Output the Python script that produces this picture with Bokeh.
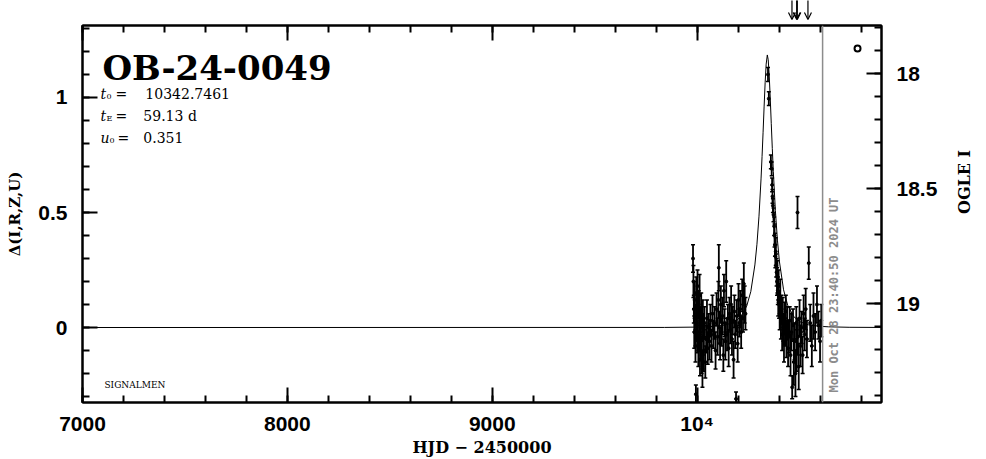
import math
from bokeh.plotting import figure
from bokeh.layouts import column
from bokeh.models import (Range1d, LinearAxis, SingleIntervalTicker, Label, Span,
                          Arrow, OpenHead, CustomJSTickFormatter)
from bokeh.embed import file_html
from bokeh.resources import INLINE

# ---------------- data ----------------
# microlensing model curve: HJD-2450000, delta mag
model_t = [7000, 9840, 9990, 10040, 10090, 10140, 10180, 10212, 10242, 10262,
           10282, 10292, 10302, 10312, 10317, 10322, 10327, 10332, 10337, 10342.7,
           10347, 10352, 10357, 10362, 10367, 10372, 10382, 10392, 10402, 10422,
           10442, 10472, 10502, 10542, 10592, 10642, 10742, 10900]
model_d = [0.000, 0.0004, 0.0017, 0.0031, 0.0053, 0.0113, 0.0233, 0.0458, 0.093, 0.156,
           0.272, 0.362, 0.484, 0.646, 0.743, 0.849, 0.959, 1.064, 1.145, 1.185,
           1.164, 1.095, 0.996, 0.886, 0.778, 0.678, 0.508, 0.380, 0.285, 0.164,
           0.097, 0.047, 0.025, 0.012, 0.0055, 0.003, 0.001, 0.0003]

# OGLE photometry: HJD-2450000, delta mag, error
obs_t = [9980, 9982, 9984, 9986, 9988, 9990, 9992, 9994, 9996, 9998,
         10000, 10002, 10004, 10006, 10008, 10010, 10012, 10014, 10016, 10018,
         10020, 10022, 10024, 10026, 10028, 10030, 10033, 10036, 10040, 10044,
         10048, 10052, 10056, 10060, 10065, 10070, 10075, 10080, 10085, 10090,
         10095, 10100, 10104, 10106, 10108, 10112, 10116, 10120, 10124, 10128,
         10131, 10134, 10138, 10142, 10146, 10150, 10154, 10158, 10162, 10166,
         10170, 10174, 10178, 10182, 10186, 10190, 10194, 10198, 10202, 10206,
         10210, 10215, 10220, 10224, 10228, 10232, 10236,
         10346, 10350, 10360, 10364, 10366, 10368, 10370, 10373, 10376, 10378,
         10380, 10382, 10384, 10386, 10388, 10390, 10392, 10394, 10396, 10398,
         10400, 10403, 10406, 10409, 10412, 10415, 10418, 10421, 10424, 10427,
         10430, 10433, 10436, 10440, 10444, 10448, 10452, 10456, 10460, 10464,
         10468, 10472, 10476, 10480, 10484, 10486, 10490, 10492, 10496, 10500,
         10505, 10510, 10515, 10520, 10525, 10530, 10536, 10545, 10552, 10560,
         10568, 10576, 10585, 10592, 10600, 10606]
obs_d = [0.30, 0.20, 0.08, -0.02, 0.12, 0.04, -0.08, -0.29, 0.15, 0.02,
         -0.05, 0.18, 0.06, -0.10, 0.10, -0.02, 0.14, -0.14, 0.03, -0.06,
         0.08, -0.12, 0.00, -0.18, 0.05, -0.04, -0.10, 0.02, -0.15, -0.05,
         0.04, -0.09, 0.00, -0.06, 0.03, -0.08, 0.06, -0.03, 0.02, -0.10,
         0.08, -0.04, 0.12, 0.26, 0.00, -0.07, 0.10, -0.02, 0.05, -0.12,
         0.16, 0.02, -0.06, 0.20, -0.03, 0.04, -0.09, 0.06, -0.01, 0.10,
         -0.05, 0.03, -0.14, 0.07, -0.03, -0.31, 0.05, -0.07, 0.12, 0.02,
         0.08, -0.02, 0.14, 0.04, 0.19, 0.10, 0.06,
         1.10, 0.995, 0.72, 0.69, 0.62, 0.57, 0.53, 0.49, 0.44, 0.40,
         0.36, 0.31, 0.33, 0.27, 0.24, 0.20, 0.22, 0.16, 0.12, 0.18,
         0.10, 0.06, 0.13, 0.02, 0.08, -0.03, 0.05, 0.00, -0.07, 0.04,
         -0.02, 0.07, -0.05, 0.02, -0.09, -0.04, 0.03, -0.12, -0.02, -0.26,
         0.01, -0.15, -0.06, -0.20, 0.02, -0.10, 0.50, -0.04, -0.17, 0.04,
         -0.08, 0.00, -0.12, 0.06, -0.03, 0.08, -0.05, 0.28, 0.02, -0.08,
         0.05, -0.02, 0.10, 0.01, -0.06, 0.03]
obs_e = [0.06, 0.07, 0.06, 0.07, 0.08, 0.06, 0.07, 0.04, 0.07, 0.08,
         0.06, 0.07, 0.08, 0.07, 0.06, 0.08, 0.09, 0.07, 0.06, 0.08,
         0.07, 0.08, 0.06, 0.08, 0.07, 0.08, 0.09, 0.07, 0.07, 0.06,
         0.08, 0.07, 0.06, 0.08, 0.07, 0.07, 0.08, 0.06, 0.07, 0.08,
         0.07, 0.08, 0.08, 0.10, 0.07, 0.07, 0.08, 0.06, 0.08, 0.07,
         0.07, 0.06, 0.08, 0.09, 0.07, 0.06, 0.08, 0.07, 0.06, 0.08,
         0.07, 0.06, 0.08, 0.07, 0.06, 0.03, 0.07, 0.08, 0.07, 0.06,
         0.08, 0.07, 0.07, 0.06, 0.09, 0.08, 0.07,
         0.03, 0.03, 0.03, 0.03, 0.03, 0.03, 0.03, 0.03, 0.04, 0.05,
         0.05, 0.05, 0.06, 0.05, 0.06, 0.06, 0.07, 0.06, 0.07, 0.07,
         0.06, 0.07, 0.08, 0.07, 0.06, 0.07, 0.08, 0.06, 0.08, 0.07,
         0.06, 0.07, 0.08, 0.07, 0.08, 0.07, 0.06, 0.09, 0.08, 0.05,
         0.07, 0.10, 0.08, 0.10, 0.07, 0.09, 0.07, 0.08, 0.10, 0.08,
         0.09, 0.07, 0.08, 0.08, 0.07, 0.09, 0.08, 0.07, 0.08, 0.09,
         0.10, 0.08, 0.08, 0.06, 0.09, 0.07]

# alert arrows (HJD-2450000), date line, legend marker
arrow_times = [10463, 10486, 10489, 10541]
now_hjd = 10612.5
marker_t = [10783]
marker_d = [1.213]

x_ticks_major = 1000
y_ticks_major = 0.5
mag_baseline = 19.104
x_labels = {10000: "10\u2074"}
y_labels = {0: "0", 0.5: "0.5", 1: "1"}
mag_labels = {18: "18", 18.5: "18.5", 19: "19"}

title = "OB-24-0049"
par_t0 = "10342.7461"
par_tE = "59.13 d"
par_u0 = "0.351"
date_text = "Mon Oct 28 23:40:50 2024 UT"
x_title = "HJD \u2212 2450000"
y_title = "\u0394(I,R,Z,U)"
mag_title = "OGLE I"

# ---------------- layout geometry (page pixels) ----------------
W, H = 986, 459
TOP_H = 24         # strip above frame (arrows)
FL, FR, FT, FB = 82, 883, 25, 402  # frame edges in page pixels
X0, X1 = 7000, 10900
Y0, Y1 = -0.326, 1.313


def X(px):
    return X0 + (px - FL) * (X1 - X0) / (FR - FL)


def Y(py):
    return Y0 + (FB - py) * (Y1 - Y0) / (FB - FT)


# ---------------- main plot ----------------
p = figure(width=W, height=H - TOP_H, x_range=Range1d(X0, X1), y_range=Range1d(Y0, Y1),
           output_backend="svg", toolbar_location=None,
           min_border_left=FL, min_border_right=W - FR,
           min_border_top=FT - TOP_H, min_border_bottom=H - FB)
p.xgrid.visible = False
p.ygrid.visible = False
p.outline_line_color = "black"
p.outline_line_width = 2
p.background_fill_color = "white"
p.border_fill_color = "white"

xa = p.xaxis[0]
ya = p.yaxis[0]
xa.ticker = SingleIntervalTicker(interval=x_ticks_major, num_minor_ticks=5)
xa.major_label_overrides = x_labels
ya.ticker = SingleIntervalTicker(interval=y_ticks_major, num_minor_ticks=5)
ya.major_label_overrides = y_labels

top = LinearAxis(ticker=SingleIntervalTicker(interval=x_ticks_major, num_minor_ticks=5),
                 formatter=CustomJSTickFormatter(code="return ''"))
top.major_label_text_font_size = "4px"
top.major_label_standoff = 0
p.add_layout(top, "above")

p.extra_y_ranges = {"mag": Range1d(mag_baseline - Y0, mag_baseline - Y1)}
ra = LinearAxis(y_range_name="mag", ticker=SingleIntervalTicker(interval=0.5, num_minor_ticks=5))
ra.major_label_overrides = mag_labels
p.add_layout(ra, "right")

for ax in (xa, ya, top, ra):
    ax.axis_line_width = 2
    ax.axis_line_color = "black"
    ax.major_tick_line_width = 2
    ax.minor_tick_line_width = 2
    ax.major_tick_in = 15
    ax.major_tick_out = 0
    ax.minor_tick_in = 7
    ax.minor_tick_out = 0
    ax.major_label_text_font = "Liberation Sans"
    ax.major_label_text_font_style = "bold"
    ax.major_label_text_color = "black"
for ax in (xa, ya, ra):
    ax.major_label_text_font_size = "21px"
    ax.axis_label_text_font = "DejaVu Serif"
    ax.axis_label_text_font_style = "bold"
    ax.axis_label_text_color = "black"
xa.major_label_standoff = 9
ya.major_label_standoff = 15
ra.major_label_standoff = 15

xa.axis_label = x_title
xa.axis_label_text_font_size = "16px"
xa.axis_label_standoff = 0
ya.axis_label = y_title
ya.axis_label_text_font_size = "15px"
ya.axis_label_standoff = 11
ra.axis_label = mag_title
ra.axis_label_text_font_size = "16px"
ra.axis_label_standoff = 24
ra.axis_label_orientation = math.pi / 2

# model curve
p.line(model_t, model_d, line_color="black", line_width=1)

# error bars + points
lo = [d - e for d, e in zip(obs_d, obs_e)]
hi = [d + e for d, e in zip(obs_d, obs_e)]
p.segment(x0=obs_t, y0=lo, x1=obs_t, y1=hi, line_color="black", line_width=1.8)
p.scatter(obs_t, lo, marker="dash", size=4, line_color="black", line_width=1.5)
p.scatter(obs_t, hi, marker="dash", size=4, line_color="black", line_width=1.5)
p.scatter(obs_t, obs_d, marker="circle", size=3, color="black")

# legend-like marker
p.scatter(marker_t, marker_d, marker="circle", size=6, fill_color=None,
          line_color="black", line_width=2)

# current date line
p.add_layout(Span(location=now_hjd, dimension="height", line_color="#8c8c8c", line_width=1.5))


def plab(text, px, py, size, font="DejaVu Serif", style="normal", color="black",
         angle=0.0, align="left", baseline="alphabetic"):
    p.add_layout(Label(x=X(px), y=Y(py), text=text, text_font=font,
                       text_font_size=f"{size}px", text_font_style=style,
                       text_color=color, angle=angle, text_align=align,
                       text_baseline=baseline))


plab(title, 102, 67, 34, style="bold")
# parameters
plab("t", 100, 93, 14, style="italic")
plab("0", 106, 96, 8)
plab("=", 115, 93, 14)
plab(par_t0, 145, 93, 14)
plab("t", 100, 115, 14, style="italic")
plab("E", 106, 118, 8)
plab("=", 115, 115, 14)
plab(par_tE, 143, 115, 14)
plab("u", 100, 137, 14, style="italic")
plab("0", 109, 140, 8)
plab("=", 117, 137, 14)
plab(par_u0, 143, 137, 14)

plab("SIGNALMEN", 104, 384, 9)

plab(date_text, 835, 392, 12, font="DejaVu Sans Mono", style="bold", color="#8c8c8c",
     angle=math.pi / 2)

# ---------------- strip above the frame with alert arrows ----------------
ptop = figure(width=W, height=TOP_H, x_range=p.x_range, y_range=Range1d(0, TOP_H),
              output_backend="svg", toolbar_location=None,
              x_axis_location=None, y_axis_location=None,
              min_border_left=FL, min_border_right=W - FR, min_border_top=0, min_border_bottom=0)
ptop.xgrid.visible = False
ptop.ygrid.visible = False
ptop.outline_line_color = None
ptop.background_fill_color = "white"
ptop.border_fill_color = "white"
for t in arrow_times:
    ptop.add_layout(Arrow(x_start=t, y_start=TOP_H + 2, x_end=t, y_end=TOP_H - 19,
                          line_width=1.2, line_color="black",
                          end=OpenHead(size=7, line_width=1.2, line_color="black")))

layout = column(ptop, p, spacing=0)
open("out.html", "w").write(file_html(layout, INLINE))
